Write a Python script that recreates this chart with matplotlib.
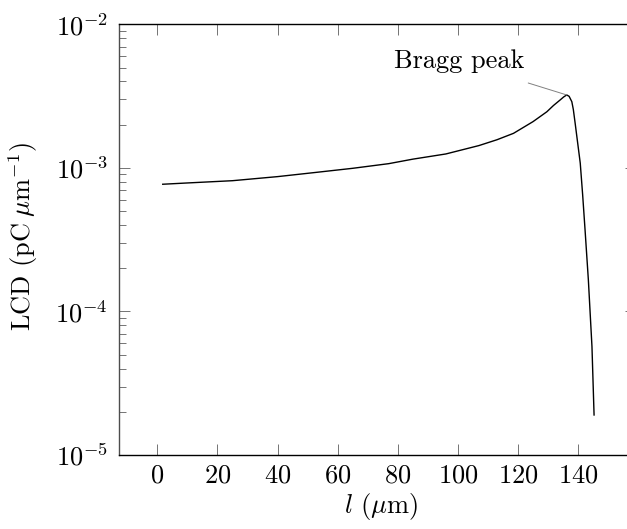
import numpy as np
import matplotlib
matplotlib.use("Agg")
import matplotlib.pyplot as plt
from matplotlib.ticker import LogLocator, FixedLocator, NullFormatter

# linear charge density along the track, sampled from the simulation output
depth_um = [1.8, 10, 25, 40, 53, 65, 77, 85, 96, 107, 113, 118.5, 125,
            129.6, 131.8, 134, 135.2, 136.2, 137.0, 137.9, 138.4, 139,
            140.7, 141.5, 142.3, 143.4, 144.6, 145.3]
lcd_pc_per_um = [7.69e-4, 7.85e-4, 8.14e-4, 8.69e-4, 9.31e-4, 9.93e-4,
                 1.07e-3, 1.15e-3, 1.25e-3, 1.43e-3, 1.57e-3, 1.74e-3,
                 2.10e-3, 2.46e-3, 2.72e-3, 2.97e-3, 3.12e-3, 3.22e-3,
                 3.15e-3, 2.89e-3, 2.55e-3, 2.05e-3, 1.08e-3, 6.5e-4,
                 3.70e-4, 1.66e-4, 5.69e-5, 1.90e-5]

x_ticks = [0, 20, 40, 60, 80, 100, 120, 140, 160]
peak_label = "Bragg peak"
label_pos = (100.4, 5.55e-3)
pin_start = (123.4, 3.90e-3)

plt.rcParams["font.family"] = ["cmr10", "DejaVu Serif"]
plt.rcParams["mathtext.fontset"] = "cm"
plt.rcParams["axes.formatter.use_mathtext"] = True
plt.rcParams["font.size"] = 19

fig = plt.figure(figsize=(6.27, 5.29), dpi=100)
ax = fig.add_axes([119 / 627, 74 / 529, 517 / 627, 430.7 / 529])

x = np.array(depth_um)
y = np.array(lcd_pc_per_um)
ax.plot(x, y, color="black", lw=1.0, solid_joinstyle="round")

ax.set_yscale("log")
ax.set_ylim(1e-5, 1e-2)
ax.set_xlim(-12.75, 159.25)

ax.xaxis.set_major_locator(FixedLocator(x_ticks))
ax.yaxis.set_major_locator(LogLocator(base=10, numticks=10))
ax.yaxis.set_minor_locator(LogLocator(base=10, subs=np.arange(2, 10), numticks=10))
ax.yaxis.set_minor_formatter(NullFormatter())

ax.tick_params(which="both", direction="in", top=True, right=True,
               color="0.45", width=0.7)
ax.tick_params(which="major", length=8, labelsize=19)
ax.tick_params(axis="x", which="major", pad=6)
ax.tick_params(axis="y", which="major", pad=8)
ax.tick_params(which="minor", length=5)
for sp in ax.spines.values():
    sp.set_linewidth(1.0)
    sp.set_color("black")
ax.spines["left"].set_color("0.3")

# peak label with a thin pin line
ipk = int(np.argmax(y))
ax.annotate("", xy=(x[ipk], y[ipk]), xytext=pin_start,
            arrowprops=dict(arrowstyle="-", color="0.5", lw=0.7,
                            shrinkA=0, shrinkB=0))
ax.text(label_pos[0], label_pos[1], peak_label, ha="center", va="center",
        fontsize=19)

ax.set_xlabel(r"$l$ ($\mu$m)", fontsize=19)
ax.set_ylabel(r"LCD (pC$\;\mu$m$^{-1}$)", fontsize=19)
ax.xaxis.set_label_coords((381.5 - 119) / 517, -(491 - 455) / 430.7)
ax.yaxis.set_label_coords(-(119 - 40) / 517, (455 - 237) / 430.7)

fig.savefig("out.png", dpi=100)
